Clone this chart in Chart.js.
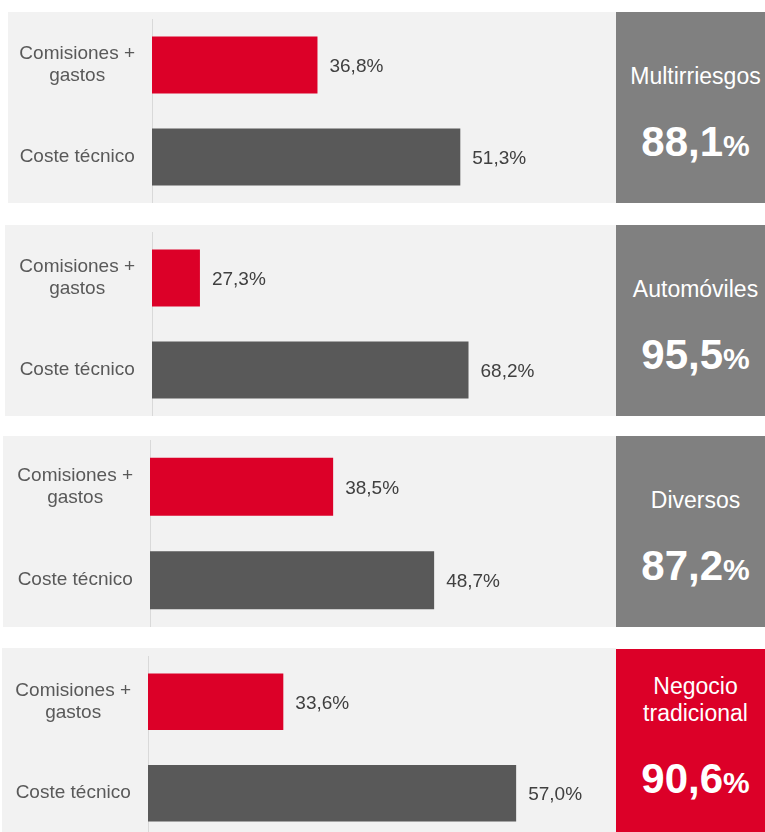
<!DOCTYPE html>
<html>
<head>
<meta charset="utf-8">
<script src="https://cdn.jsdelivr.net/npm/chart.js@4.4.1/dist/chart.umd.min.js"></script>
<style>
	html, body { margin: 0; padding: 0; background: #ffffff; overflow: hidden; }
	body { width: 765px; height: 832px; position: relative; font-family: "Liberation Sans", Arial, sans-serif; }
	.panel { position: absolute; background: #f2f2f2; height: 191px; }
	.panel canvas { position: absolute; left: 0; top: 0; }
	.box { position: absolute; left: 616px; width: 149px; height: 191px; background: #808080; color: #ffffff; }
	.box.red { background: #dc0028; }
	.box .title { position: absolute; left: 10px; right: 0; bottom: 113px; text-align: center; font-size: 23px; line-height: 27px; }
	.box .value { position: absolute; left: 10px; right: 0; top: 109px; text-align: center; font-weight: bold; line-height: 42px; }
	.box .num { font-size: 42px; }
	.box .pct { font-size: 30px; }
</style>
</head>
<body>
<script>
'use strict'

// datos
const categories = [['Comisiones +', 'gastos'], 'Coste técnico'];
const segments = [['Multirriesgos'], ['Automóviles'], ['Diversos'], ['Negocio', 'tradicional']];
const comisiones = [36.8, 27.3, 38.5, 33.6];
const costeTecnico = [51.3, 68.2, 48.7, 57.0];
const ratioCombinado = [88.1, 95.5, 87.2, 90.6];
const axisMin = [20, 20, 20, 20];
const axisMax = [60, 80, 60, 60];

// layout de cada panel
const panelLeft = [8, 5, 3, 2];
const panelTop = [12, 225, 436, 648];
const axisX = [152, 152, 150, 148];
const padTop = [7, 7, 4, 8];
const boxRed = [false, false, false, true];

const RED = '#dc0028';
const DARK = '#595959';
const FONT = '"Liberation Sans", Arial, sans-serif';

let fmt = function (v) {
	return v.toFixed(1).replace('.', ',');
};

// etiquetas de valor al final de la barra
let valueLabels = {
	id: 'valueLabels',
	afterDatasetsDraw: function (chart) {
		const ctx = chart.ctx;
		const meta = chart.getDatasetMeta(0);
		ctx.save();
		ctx.font = '19px ' + FONT;
		ctx.fillStyle = '#404040';
		ctx.textAlign = 'left';
		ctx.textBaseline = 'middle';
		meta.data.forEach((bar, i) => {
			const v = chart.data.datasets[0].data[i];
			ctx.fillText(fmt(v) + '%', bar.x + 12, bar.y + 2);
		});
		ctx.restore();
	}
};

for (let i = 0; i < segments.length; i++) {
	// fondo gris claro con el gráfico
	const panel = document.createElement('div');
	panel.className = 'panel';
	panel.style.left = panelLeft[i] + 'px';
	panel.style.top = panelTop[i] + 'px';
	panel.style.width = (616 - panelLeft[i]) + 'px';
	document.body.appendChild(panel);

	const can = document.createElement('canvas');
	can.width = 616 - panelLeft[i];
	can.height = 191;
	panel.appendChild(can);

	const yWidth = axisX[i] - panelLeft[i];

	new Chart(can.getContext('2d'), {
		type: 'bar',
		data: {
			labels: categories,
			datasets: [{
				data: [comisiones[i], costeTecnico[i]],
				backgroundColor: [RED, DARK],
				borderWidth: 0,
				categoryPercentage: 1,
				barPercentage: 0.62
			}]
		},
		options: {
			indexAxis: 'y',
			responsive: false,
			animation: false,
			devicePixelRatio: 1,
			layout: { padding: { top: padTop[i], right: 70, bottom: 0, left: 0 } },
			plugins: { legend: { display: false }, tooltip: { enabled: false } },
			scales: {
				x: {
					display: false,
					min: axisMin[i],
					max: axisMax[i]
				},
				y: {
					grid: { display: false, drawTicks: false },
					border: { display: true, color: '#d9d9d9', width: 1 },
					ticks: {
						color: DARK,
						font: { family: FONT, size: 19, lineHeight: 1.15 },
						crossAlign: 'center',
						padding: 17
					},
					afterFit: function (scale) {
						scale.width = yWidth;
						scale.paddingTop = 0;
						scale.paddingBottom = 0;
					}
				}
			}
		},
		plugins: [valueLabels]
	});

	// caja derecha con el ratio
	const box = document.createElement('div');
	box.className = boxRed[i] ? 'box red' : 'box';
	box.style.top = (panelTop[i] + (i === 3 ? 1 : 0)) + 'px';
	const title = document.createElement('div');
	title.className = 'title';
	title.innerHTML = segments[i].join('<br>');
	const value = document.createElement('div');
	value.className = 'value';
	value.innerHTML = '<span class="num">' + fmt(ratioCombinado[i]) + '</span><span class="pct">%</span>';
	box.appendChild(title);
	box.appendChild(value);
	document.body.appendChild(box);
}
</script>
</body>
</html>
